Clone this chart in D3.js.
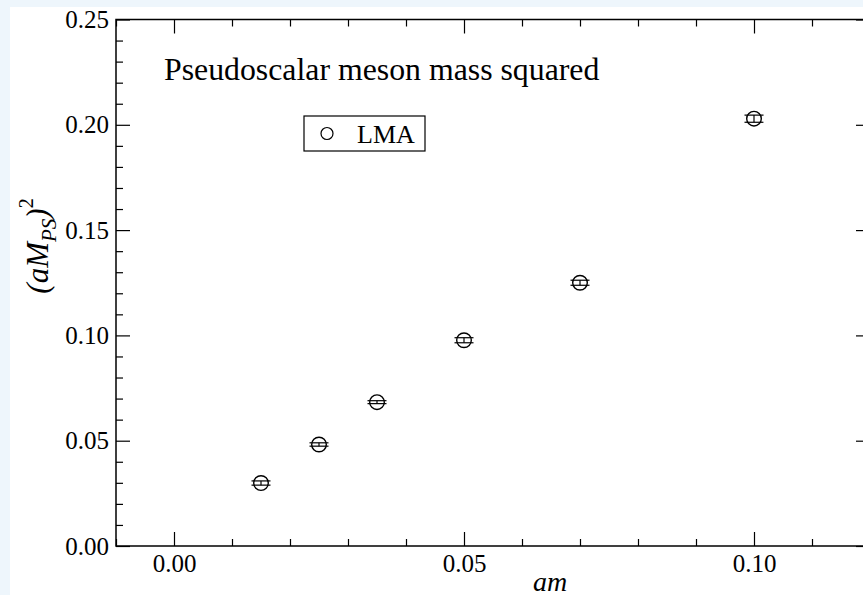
<!DOCTYPE html>
<html>
<head>
<meta charset="utf-8">
<script src="https://cdn.jsdelivr.net/npm/d3@7"></script>
<style>
  html, body { margin: 0; padding: 0; background: #eef6fc; }
  svg { display: block; }
  text { font-family: "Liberation Serif", "Times New Roman", serif; fill: #000; }
  .domain { display: none; }
</style>
</head>
<body>
<div id="chart"></div>
<script>
// quark mass am and (aM_PS)^2
var amValues = [0.015, 0.025, 0.035, 0.05, 0.07, 0.10];
var mps2 = [0.0299, 0.0482, 0.0683, 0.0977, 0.125, 0.2029];
var mps2Err = [0.0010, 0.0008, 0.0007, 0.0012, 0.0012, 0.0017];
var xTicks = [0.00, 0.05, 0.10];
var yTicks = [0.00, 0.05, 0.10, 0.15, 0.20, 0.25];
var seriesName = "LMA";
var title = "Pseudoscalar meson mass squared";

var w = 863, h = 595;
var plotLeft = 116, plotRight = 870, plotTop = 19.5, plotBottom = 546;

var svg = d3.select("#chart").append("svg")
    .attr("width", w).attr("height", h);

svg.append("rect").attr("x", 10).attr("y", 7)
    .attr("width", w).attr("height", h).attr("fill", "#fff");

var x = d3.scaleLinear().domain([-0.01, 0.12]).range([plotLeft, plotRight]);
var y = d3.scaleLinear().domain([0, 0.25]).range([plotBottom, plotTop]);

var xMinor = d3.range(-1, 13).map(function(i) { return i / 100; })
    .filter(function(v) { return Math.round(v * 100) % 5 != 0; });
var yMinor = d3.range(0, 26).map(function(i) { return i / 100; })
    .filter(function(v) { return Math.round(v * 100) % 5 != 0; });

var fmt = d3.format(".2f");

function drawAxis(axis, tx, ty, withLabels) {
  var g = svg.append("g")
      .attr("transform", "translate(" + tx + "," + ty + ")")
      .call(axis);
  g.selectAll(".tick line").attr("stroke", "#000").attr("stroke-width", 1.2);
  g.selectAll("text").style("font-size", "25px")
      .style("font-family", "'Liberation Serif', 'Times New Roman', serif");
  if (!withLabels) g.selectAll("text").remove();
  return g;
}

// bottom / top
drawAxis(d3.axisBottom(x).tickValues(xTicks).tickSize(-14).tickPadding(8).tickFormat(fmt), 0, plotBottom, true);
drawAxis(d3.axisBottom(x).tickValues(xMinor).tickSize(-7).tickFormat(""), 0, plotBottom, false);
drawAxis(d3.axisTop(x).tickValues(xTicks).tickSize(-14), 0, plotTop, false);
drawAxis(d3.axisTop(x).tickValues(xMinor).tickSize(-7).tickFormat(""), 0, plotTop, false);
// left / right
drawAxis(d3.axisLeft(y).tickValues(yTicks).tickSize(-14).tickPadding(7).tickFormat(fmt), plotLeft, 0, true);
drawAxis(d3.axisLeft(y).tickValues(yMinor).tickSize(-7).tickFormat(""), plotLeft, 0, false);
drawAxis(d3.axisRight(y).tickValues(yTicks).tickSize(-14), plotRight, 0, false);
drawAxis(d3.axisRight(y).tickValues(yMinor).tickSize(-7).tickFormat(""), plotRight, 0, false);

// frame
svg.append("rect")
    .attr("x", plotLeft).attr("y", plotTop)
    .attr("width", plotRight - plotLeft).attr("height", plotBottom - plotTop)
    .attr("fill", "none").attr("stroke", "#000").attr("stroke-width", 1.5);

// data
var data = amValues.map(function(d, i) {
  return {x: d, y: mps2[i], e: mps2Err[i]};
});

var pts = svg.append("g").attr("class", "contentContainer")
    .selectAll("g").data(data).enter().append("g");

pts.append("line")
    .attr("x1", function(d) { return x(d.x); })
    .attr("x2", function(d) { return x(d.x); })
    .attr("y1", function(d) { return y(d.y - d.e); })
    .attr("y2", function(d) { return y(d.y + d.e); })
    .attr("stroke", "#000").attr("stroke-width", 1.2);
[-1, 1].forEach(function(s) {
  pts.append("line")
      .attr("x1", function(d) { return x(d.x) - 9.5; })
      .attr("x2", function(d) { return x(d.x) + 9.5; })
      .attr("y1", function(d) { return y(d.y + s * d.e); })
      .attr("y2", function(d) { return y(d.y + s * d.e); })
      .attr("stroke", "#000").attr("stroke-width", 1.2);
});
pts.append("circle")
    .attr("cx", function(d) { return x(d.x); })
    .attr("cy", function(d) { return y(d.y); })
    .attr("r", 7.3)
    .attr("fill", "none").attr("stroke", "#000").attr("stroke-width", 1.4);

// title
svg.append("text").attr("x", 164).attr("y", 80)
    .style("font-size", "31.8px").text(title);

// legend
svg.append("rect").attr("x", 304).attr("y", 116).attr("width", 121).attr("height", 35)
    .attr("fill", "#fff").attr("stroke", "#000").attr("stroke-width", 1.2);
svg.append("circle").attr("cx", 327).attr("cy", 133.5).attr("r", 6)
    .attr("fill", "none").attr("stroke", "#000").attr("stroke-width", 1.2);
svg.append("text").attr("x", 357).attr("y", 143)
    .style("font-size", "26px").text(seriesName);

// axis labels
svg.append("text").attr("x", 550).attr("y", 591)
    .attr("text-anchor", "middle")
    .style("font-size", "28px").style("font-style", "italic").text("am");

var yl = svg.append("text")
    .attr("transform", "translate(48,246) rotate(-90)")
    .attr("text-anchor", "middle")
    .style("font-size", "31px").style("font-style", "italic");
yl.append("tspan").text("(aM");
yl.append("tspan").attr("dy", 8).style("font-size", "21px").text("PS");
yl.append("tspan").attr("dy", -8).text(")");
yl.append("tspan").attr("dy", -15).style("font-size", "20px").style("font-style", "normal").text("2");
</script>
</body>
</html>
